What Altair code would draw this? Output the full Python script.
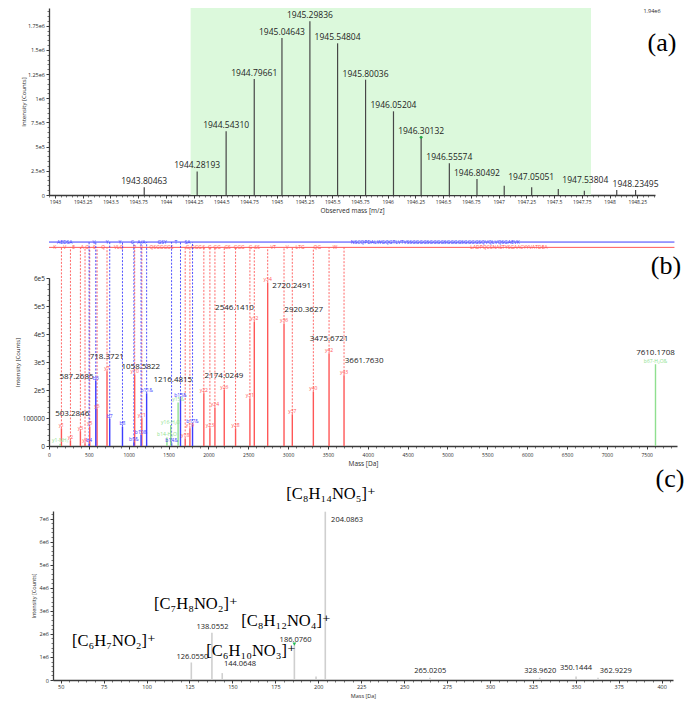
import altair as alt
import numpy as np
import pandas as pd

FONT = "Open Sans"
SERIF = "Liberation Serif, DejaVu Serif, serif"
INK = "#2b2b2b"
AX = "#3a3a3a"
RED = "#ff5757"
BLUE = "#3d3dff"
GREEN = "#8fdf8f"

# ---------------- panel (a) : isotope envelope ----------------
a_mz = [1943.80463, 1944.28193, 1944.54310, 1944.79661, 1945.04643, 1945.29836,
        1945.54804, 1945.80036, 1946.05204, 1946.30132, 1946.55574, 1946.80492,
        1947.05051, 1947.298, 1947.53804, 1947.773, 1948.065, 1948.23495]
a_int = [0.079e6, 0.244e6, 0.658e6, 1.200e6, 1.624e6, 1.795e6,
         1.568e6, 1.192e6, 0.865e6, 0.596e6, 0.327e6, 0.165e6,
         0.096e6, 0.079e6, 0.062e6, 0.044e6, 0.052e6, 0.052e6]
a_label = ["1943.80463", "1944.28193", "1944.54310", "1944.79661", "1945.04643", "1945.29836",
           "1945.54804", "1945.80036", "1946.05204", "1946.30132", "1946.55574", "1946.80492",
           "1947.05051", "", "1947.53804", "", "", "1948.23495"]
a_shifted = ["1947.05051", "1947.53804"]
a_marked = ["1946.30132"]
a_window = [1944.223, 1947.833]
a_xdomain = [1942.946, 1948.41]
a_ydomain = [0, 1.933e6]
a_xticks = [1943, 1943.25, 1943.5, 1943.75, 1944, 1944.25, 1944.5, 1944.75, 1945, 1945.25,
            1945.5, 1945.75, 1946, 1946.25, 1946.5, 1946.75, 1947, 1947.25, 1947.5, 1947.75,
            1948, 1948.25]
a_yticks = [0, 250000, 500000, 750000, 1000000, 1250000, 1500000, 1750000]
a_ytick_labels = ["0", "2.5e5", "5e5", "7.5e5", "1e6", "1.25e6", "1.5e6", "1.75e6"]
a_max_text = "1.94e6"

# ---------------- panel (b) : deconvoluted fragment spectrum ----------------
b_y_names = ["y1", "y2", "y3", "y4", "y5", "y6", "y7", "y10", "y11", "y18", "y19", "y22",
             "y23", "y24", "y26", "y28", "y31", "y32", "y34", "y36", "y37", "y40", "y42", "y43"]
b_y_mass = [156, 269, 394, 452, 511, 603, 728, 1075, 1165, 1709, 1768, 1943,
            2019, 2082, 2199, 2341, 2521, 2576, 2744, 2949, 3053, 3317, 3514, 3702]
b_y_int = [0.63e5, 0.2e5, 0.53e5, 0.1e5, 0.68e5, 1.32e5, 2.67e5, 2.55e5, 0.99e5, 0.27e5, 0.63e5, 1.88e5,
           0.63e5, 1.37e5, 2.0e5, 0.63e5, 1.7e5, 4.43e5, 5.83e5, 4.36e5, 1.13e5, 1.94e5, 3.3e5, 2.53e5]
b_b_names = ["b4", "b6", "b7", "b8", "b9&", "b10&", "b11&", "b14&", "b15&", "b17&"]
b_b_mass = [503, 587, 762, 922, 1065, 1155, 1225, 1538, 1650, 1801]
b_b_int = [0.08e5, 2.32e5, 0.96e5, 0.69e5, 0.13e5, 0.39e5, 1.88e5, 0.1e5, 1.7e5, 0.77e5]
b_g_names = ["y1-NH\u2083", "b14-H\u2082O", "y16-H\u2082O", "y15&", "b67-H\u2082O&"]
b_g_mass = [140, 1480, 1527, 1620, 7610.1708]
b_g_int = [0.08e5, 0.3e5, 0.75e5, 1.55e5, 2.92e5]

b_mass_labels = ["503.2846", "587.2685", "718.3721", "1058.5822", "1216.4815", "2174.0249",
                 "2546.1410", "2720.2491", "2920.3627", "3475.6721", "3661.7630", "7610.1708"]
b_mass_label_x = [291, 345, 725, 1152, 1554, 2195, 2327, 3045, 3196, 3514, 3954, 7610]
b_mass_label_y = [1.14e5, 2.45e5, 3.17e5, 2.82e5, 2.34e5, 2.5e5, 4.92e5, 5.73e5, 4.87e5,
                  3.81e5, 3.03e5, 3.33e5]

b_seq_blue = ["AEDSA", "V", "Y", "Y", "C", "A/A", "GSY", "T", "SA",
              "NSCQPDALWGQGTLVTVSSGGGGSGGGGSGGGGSGGGGSQVQLVQSGAEVK"]
b_seq_blue_x = [197, 566, 729, 888, 1047, 1160, 1420, 1592, 1738, 4846]
b_seq_red = ["K", "V", "E", "A", "G", "S", "Q", "VLQ", "P", "V", "QSGGGGS", "G", "GGG", "S", "G",
             "GG", "GS", "GGG", "G", "SS", "VT", "V", "LTG", "QG", "W", "LADPQCSNASTYSGAACYYVATDEA"]
b_seq_red_x = [72, 197, 310, 419, 478, 570, 679, 876, 1077, 1160, 1412, 1738, 1851, 1943, 2019,
               2111, 2241, 2387, 2530, 2613, 2814, 2990, 3150, 3367, 3589, 5771]
b_seq_level = {"blue": 7.284e5, "red": 7.094e5}
b_seq_end = 7848

b_xdomain = [0, 7880]
b_ydomain = [0, 6e5]
b_xticks = [0, 500, 1000, 1500, 2000, 2500, 3000, 3500, 4000, 4500, 5000, 5500, 6000, 6500, 7000, 7500]
b_yticks = [0, 100000, 200000, 300000, 400000, 500000, 600000]
b_ytick_labels = ["0", "100000", "2e5", "3e5", "4e5", "5e5", "6e5"]

# ---------------- panel (c) : low-mass fragment ions ----------------
c_mass = [126.0550, 138.0552, 144.0648, 186.0760, 198.7, 204.0863, 265.0205, 328.9620, 350.1444, 362.9229]
c_int = [0.76e6, 2.05e6, 0.3e6, 1.56e6, 0.15e6, 7.3e6, 0.1e6, 0.1e6, 0.15e6, 0.1e6]
c_labels = ["204.0863", "138.0552", "126.0550", "144.0648", "186.0760", "265.0205", "328.9620",
            "350.1444", "362.9229"]
c_label_x = [216.8, 138.4, 126.7, 154.4, 186.8, 265.2, 329.3, 350.1, 373.3]
c_label_y = [6.93e6, 2.28e6, 1.01e6, 0.69e6, 1.75e6, 0.4e6, 0.4e6, 0.5e6, 0.4e6]
c_formula = ["[C\u2088H\u2081\u2084NO\u2085]\u207a", "[C\u2087H\u2088NO\u2082]\u207a",
             "[C\u2088H\u2081\u2082NO\u2084]\u207a", "[C\u2086H\u2087NO\u2082]\u207a",
             "[C\u2086H\u2081\u2080NO\u2083]\u207a"]
c_formula_x = [207.4, 128.7, 181.2, 81.0, 160.8]
c_formula_y = [8.07e6, 3.29e6, 2.57e6, 1.67e6, 1.27e6]
c_marked = [186.0760]
c_xdomain = [45.5, 406.6]
c_ydomain = [0, 7.33e6]
c_xticks = [50, 75, 100, 125, 150, 175, 200, 225, 250, 275, 300, 325, 350, 375, 400]
c_yticks = [0, 1e6, 2e6, 3e6, 4e6, 5e6, 6e6, 7e6]
c_ytick_labels = ["0", "1e6", "2e6", "3e6", "4e6", "5e6", "6e6", "7e6"]


def lab_expr(vals, labs):
    e = "''"
    for v, l in reversed(list(zip(vals, labs))):
        e = f"(abs(datum.value - {v}) < 0.001 ? '{l}' : {e})"
    return e


def axis_main(orient, values, title, lsize, tsize, expr, lpad=1.5, tpad=2):
    return alt.Axis(orient=orient, values=values, title=title, grid=False,
                    labelFont=FONT, labelFontSize=lsize, labelColor=INK,
                    titleFont=FONT, titleFontSize=tsize, titleFontWeight="normal", titleColor=INK,
                    tickSize=3, tickColor=AX, tickWidth=1, domainColor=AX, domainWidth=1.3,
                    labelPadding=lpad, titlePadding=tpad, labelFlush=False, labelOverlap=False,
                    labelExpr=expr)


def axis_minor(orient, values):
    return alt.Axis(orient=orient, values=values, labels=False, title=None, grid=False,
                    domain=False, tickSize=2, tickColor=AX, tickWidth=0.7)


def minor_layer(xs, ys, xvals, yvals):
    return alt.Chart(pd.DataFrame({"x": xs.domain, "y": ys.domain})).mark_point(opacity=0).encode(
        x=alt.X("x:Q", scale=xs, axis=axis_minor("bottom", xvals)),
        y=alt.Y("y:Q", scale=ys, axis=axis_minor("left", yvals)))


# ======== panel (a) ========
sxa = alt.Scale(domain=a_xdomain, nice=False, zero=False)
sya = alt.Scale(domain=a_ydomain, nice=False, zero=False)
a_df = pd.DataFrame({"mz": a_mz, "inten": a_int, "label": a_label})
a_df["zero"] = 0.0

a_shade = alt.Chart(pd.DataFrame({"x1": [a_window[0]], "x2": [a_window[1]],
                                  "y1": [a_ydomain[1]], "y2": [a_ydomain[0]]})).mark_rect(
    color="#dcf9dc").encode(
    x=alt.X("x1:Q", scale=sxa, axis=None), x2="x2",
    y=alt.Y("y1:Q", scale=sya, axis=None), y2="y2")

a_peaks = alt.Chart(a_df).mark_rule(color="#474747", strokeWidth=1.2).encode(
    x=alt.X("mz:Q", scale=sxa,
            axis=axis_main("bottom", a_xticks, "Observed mass [m/z]", 5, 6.5, "'' + datum.value", 1.5, 3)),
    y=alt.Y("inten:Q", scale=sya,
            axis=axis_main("left", a_yticks, "Intensity [Counts]", 5.5, 6, lab_expr(a_yticks, a_ytick_labels), 1.5, 1)),
    y2=alt.Y2("zero:Q"))

a_lab_df = a_df[a_df["label"] != ""]
a_lab_c = alt.Chart(a_lab_df[~a_lab_df["label"].isin(a_shifted)]).mark_text(
    font=FONT, fontSize=8.5, color="#1e1e1e", baseline="bottom", dy=-1).encode(
    x=alt.X("mz:Q", scale=sxa, axis=None), y=alt.Y("inten:Q", scale=sya, axis=None), text="label:N")
a_lab_s = alt.Chart(a_lab_df[a_lab_df["label"].isin(a_shifted)]).mark_text(
    font=FONT, fontSize=8.5, color="#1e1e1e", baseline="bottom", dx=27, dy=-4).encode(
    x=alt.X("mz:Q", scale=sxa, axis=None), y=alt.Y("inten:Q", scale=sya, axis=None), text="label:N")
a_dot = alt.Chart(a_df[a_df["label"].isin(a_marked)]).mark_point(
    shape="circle", filled=True, size=8, color="#22aa44", opacity=1).encode(
    x=alt.X("mz:Q", scale=sxa, axis=None), y=alt.Y("inten:Q", scale=sya, axis=None))
a_minor = minor_layer(sxa, sya,
                      np.round(np.arange(1942.95, 1948.41, 0.05), 3).tolist(),
                      np.arange(0, 1.93e6, 5e4).tolist())
a_tag = alt.Chart(pd.DataFrame({"t": ["(a)"]})).mark_text(
    font=SERIF, fontSize=26, color="black").encode(text="t:N", x=alt.value(613), y=alt.value(35))
a_max = alt.Chart(pd.DataFrame({"t": [a_max_text]})).mark_text(
    font=FONT, fontSize=5.5, color=INK).encode(text="t:N", x=alt.value(603), y=alt.value(3))

panel_a = alt.layer(a_shade, a_peaks, a_lab_c, a_lab_s, a_dot, a_minor, a_tag, a_max).resolve_axis(
    x="independent", y="independent").properties(width=606, height=187)

# ======== panel (b) ========
sxb = alt.Scale(domain=b_xdomain, nice=False, zero=False)
syb = alt.Scale(domain=b_ydomain, nice=False, zero=False)
ions = pd.concat([
    pd.DataFrame({"name": b_y_names, "mass": b_y_mass, "inten": b_y_int, "kind": "red", "col": RED}),
    pd.DataFrame({"name": b_b_names, "mass": b_b_mass, "inten": b_b_int, "kind": "blue", "col": BLUE}),
    pd.DataFrame({"name": b_g_names, "mass": b_g_mass, "inten": b_g_int, "kind": "green", "col": GREEN}),
], ignore_index=True)
ions["zero"] = 0.0
dashed = ions[ions["kind"] != "green"].copy()
dashed["top"] = dashed["kind"].map(b_seq_level)

seq_lines = pd.DataFrame({"x1": [b_xdomain[0]] * 2, "x2": [b_seq_end] * 2,
                          "y": [b_seq_level["blue"], b_seq_level["red"]], "col": [BLUE, RED]})
seq_text = pd.concat([
    pd.DataFrame({"t": b_seq_blue, "x": b_seq_blue_x, "y": b_seq_level["blue"], "col": BLUE}),
    pd.DataFrame({"t": b_seq_red, "x": b_seq_red_x, "y": b_seq_level["red"], "col": RED}),
], ignore_index=True)

b_seq_l = alt.Chart(seq_lines).mark_rule(strokeWidth=1).encode(
    x=alt.X("x1:Q", scale=sxb, axis=None), x2="x2",
    y=alt.Y("y:Q", scale=syb, axis=None), color=alt.Color("col:N", scale=None))
b_seq_t = alt.Chart(seq_text).mark_text(font=FONT, fontSize=5, baseline="middle").encode(
    x=alt.X("x:Q", scale=sxb, axis=None), y=alt.Y("y:Q", scale=syb, axis=None),
    text="t:N", color=alt.Color("col:N", scale=None))
b_dash = alt.Chart(dashed).mark_rule(strokeWidth=0.9, strokeDash=[2, 1.5]).encode(
    x=alt.X("mass:Q", scale=sxb, axis=None), y=alt.Y("inten:Q", scale=syb, axis=None),
    y2="top:Q", color=alt.Color("col:N", scale=None))
b_peaks = alt.Chart(ions).mark_rule(strokeWidth=1.4).encode(
    x=alt.X("mass:Q", scale=sxb,
            axis=axis_main("bottom", b_xticks, "Mass [Da]", 5, 6.5, "'' + datum.value", 3, 3)),
    y=alt.Y("inten:Q", scale=syb,
            axis=axis_main("left", b_yticks, "Intensity [Counts]", 6.5, 6, lab_expr(b_yticks, b_ytick_labels), 1.5, 2)),
    y2=alt.Y2("zero:Q"), color=alt.Color("col:N", scale=None))
b_ionlab = alt.Chart(ions).mark_text(font=FONT, fontSize=5, baseline="bottom", dy=-0.5).encode(
    x=alt.X("mass:Q", scale=sxb, axis=None), y=alt.Y("inten:Q", scale=syb, axis=None),
    text="name:N", color=alt.Color("col:N", scale=None))
b_masslab = alt.Chart(pd.DataFrame({"t": b_mass_labels, "x": b_mass_label_x, "y": b_mass_label_y})).mark_text(
    font=FONT, fontSize=8, color="#222222", baseline="middle").encode(
    x=alt.X("x:Q", scale=sxb, axis=None), y=alt.Y("y:Q", scale=syb, axis=None), text="t:N")
b_minor = minor_layer(sxb, syb, list(range(0, 7900, 100)), list(range(0, 600001, 20000)))
b_tag = alt.Chart(pd.DataFrame({"t": ["(b)"]})).mark_text(
    font=SERIF, fontSize=26, color="black").encode(text="t:N", x=alt.value(617), y=alt.value(-12))

panel_b = alt.layer(b_seq_l, b_seq_t, b_dash, b_peaks, b_ionlab, b_masslab, b_minor, b_tag).resolve_axis(
    x="independent", y="independent").properties(width=628, height=168)

# ======== panel (c) ========
sxc = alt.Scale(domain=c_xdomain, nice=False, zero=False)
syc = alt.Scale(domain=c_ydomain, nice=False, zero=False)
c_df = pd.DataFrame({"mass": c_mass, "inten": c_int})
c_df["zero"] = 0.0

c_peaks = alt.Chart(c_df).mark_rule(color="#cfcfcf", strokeWidth=1.6).encode(
    x=alt.X("mass:Q", scale=sxc,
            axis=axis_main("bottom", c_xticks, "Mass [Da]", 5.5, 5.5, "'' + datum.value", 1.5, 3)),
    y=alt.Y("inten:Q", scale=syc,
            axis=axis_main("left", c_yticks, "Intensity [Counts]", 5.5, 5.5, lab_expr(c_yticks, c_ytick_labels), 1.5, 3)),
    y2=alt.Y2("zero:Q"))
c_mark = alt.Chart(c_df[c_df["mass"].isin(c_marked)]).mark_point(
    shape="triangle-down", filled=True, size=14, color="#22bb55", opacity=1).encode(
    x=alt.X("mass:Q", scale=sxc, axis=None), y=alt.Y("inten:Q", scale=syc, axis=None))
c_lab = alt.Chart(pd.DataFrame({"t": c_labels, "x": c_label_x, "y": c_label_y})).mark_text(
    font=FONT, fontSize=7.5, color="#222222", baseline="middle").encode(
    x=alt.X("x:Q", scale=sxc, axis=None), y=alt.Y("y:Q", scale=syc, axis=None), text="t:N")
c_form = alt.Chart(pd.DataFrame({"t": c_formula, "x": c_formula_x, "y": c_formula_y})).mark_text(
    font=SERIF, fontSize=16.5, color="black", baseline="middle").encode(
    x=alt.X("x:Q", scale=sxc, axis=None), y=alt.Y("y:Q", scale=syc, axis=None), text="t:N")
c_minor = minor_layer(sxc, syc, list(range(50, 406, 5)), np.arange(0, 7.3e6, 2e5).tolist())
c_tag = alt.Chart(pd.DataFrame({"t": ["(c)"]})).mark_text(
    font=SERIF, fontSize=26, color="black").encode(text="t:N", x=alt.value(617), y=alt.value(-32))

panel_c = alt.layer(c_peaks, c_mark, c_lab, c_form, c_minor, c_tag).resolve_axis(
    x="independent", y="independent").properties(width=620, height=169)

# a 4px empty cell pushes panel (c) to the right, as in the reference
spacer = alt.Chart(pd.DataFrame({"t": [""]})).mark_text().encode(
    text="t:N", x=alt.value(0), y=alt.value(0)).properties(width=4, height=169)
row_c = alt.hconcat(spacer, panel_c, spacing=0, bounds="flush")

chart = alt.vconcat(
    panel_a,
    alt.vconcat(panel_b, row_c, spacing=65, bounds="flush"),
    spacing=83, bounds="flush",
).properties(
    padding={"left": 14, "top": 5, "right": 5, "bottom": 5},
    background="white",
).configure_view(strokeWidth=0).configure_axis(grid=False)

chart.save("out.html", embed_options={"renderer": "svg", "actions": False})
